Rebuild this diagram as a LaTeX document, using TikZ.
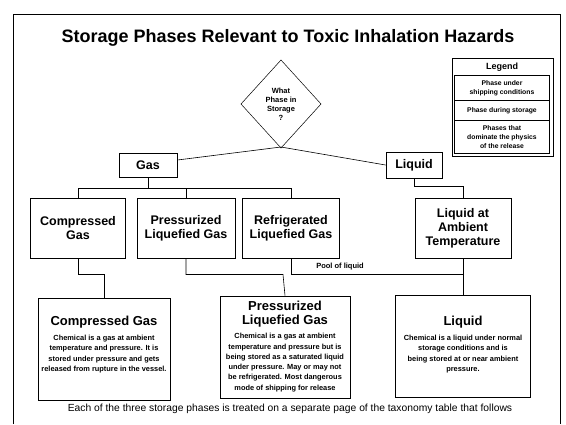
\documentclass[tikz,border=0pt]{standalone}
\usepackage{fontspec}
\setmainfont{Liberation Sans}
\usepackage{tikz}
\usetikzlibrary{arrows,shapes,positioning}

\tikzset{
  phasebox/.style={draw, line width=.9pt, align=center, font=\fontsize{12.5}{14}\selectfont\bfseries, inner sep=0pt},
  infobox/.style={draw, line width=1pt, inner sep=0pt},
  legbox/.style={draw, line width=.7pt, align=center, font=\fontsize{6.8}{9}\selectfont\bfseries, inner sep=0pt},
  bodytext/.style={align=center, font=\fontsize{7.4}{10.3}\selectfont\bfseries},
  headtext/.style={align=center, font=\fontsize{13}{14.5}\selectfont\bfseries},
  wire/.style={line width=.6pt},
}

\begin{document}
\begin{tikzpicture}[x=1pt,y=-1pt]
\useasboundingbox (0,0) rectangle (566,424);
%outside frame, open at the bottom
\draw[line width=.8pt] (13,424) -- (13,14) -- (560,14) -- (560,424);
\node[font=\fontsize{18}{20}\selectfont\bfseries] (title) at (288,38) {Storage Phases Relevant to Toxic Inhalation Hazards};
%question diamond
\draw[line width=.5pt] (281,60) -- (321,104) -- (281,148) -- (241,104) -- cycle;
\node[align=center, font=\fontsize{7.5}{9}\selectfont\bfseries] (ask) at (281,104) {What\\Phase in\\Storage\\?};
\coordinate (askbot) at (281,147);
%legend
\draw[line width=.8pt] (452,58) rectangle (553,156);
\node[font=\fontsize{9}{10}\selectfont\bfseries] (leg) at (502,67) {Legend};
\node[legbox, minimum width=95pt, minimum height=25pt] (leg1) at (502,88) {Phase under\\shipping conditions};
\node[legbox, minimum width=95pt, minimum height=20pt] (leg2) at (502,110.5) {Phase during storage};
\node[legbox, minimum width=95pt, minimum height=33pt] (leg3) at (502,137) {Phases that\\dominate the physics\\of the release};
%first split
\node[phasebox, minimum width=58pt, minimum height=24pt] (gas) at (148,165) {Gas};
\node[phasebox, minimum width=56pt, minimum height=26pt] (liq) at (414,165) {Liquid};
\draw[wire] (askbot) -- (gas.north east |- 0,160);
\draw[wire] (askbot) -- (liq.west);
%storage phases
\node[phasebox, minimum width=95pt, minimum height=60pt] (cg) at (78,228) {Compressed\\Gas};
\node[phasebox, minimum width=98pt, minimum height=60pt] (plg) at (186,228) {Pressurized\\Liquefied Gas};
\node[phasebox, minimum width=97pt, minimum height=60pt] (rlg) at (291,228) {Refrigerated\\Liquefied Gas};
\node[phasebox, minimum width=96pt, minimum height=60pt] (lat) at (463,228) {Liquid at\\Ambient\\Temperature};
\draw[wire] (gas.south) -- ++(0,11) coordinate (gsplit);
\draw[wire] (cg.north) |- (gsplit) -| (rlg.north);
\draw[wire] (plg.north) -- (plg.north |- gsplit);
\draw[wire] (liq.south) |- ++(49,8) -- (lat.north);
%release phases
\node[infobox, minimum width=132pt, minimum height=102pt] (cgi) at (104,349) {};
\node[infobox, minimum width=130pt, minimum height=102pt] (plgi) at (285,347) {};
\node[infobox, minimum width=135pt, minimum height=102pt] (liqi) at (463,346) {};
\node[headtext] (cgt) at (104,322) {Compressed Gas};
\node[bodytext, below=0pt of cgt] (cgx) {Chemical is a gas at ambient\\temperature and pressure. It is\\stored under pressure and gets\\released from rupture in the vessel.};
\node[headtext] (plgt) at (285,314) {Pressurized\\Liquefied Gas};
\node[bodytext, below=-1pt of plgt] (plgx) {Chemical is a gas at ambient\\temperature and pressure but is\\being stored as a saturated liquid\\under pressure. May or may not\\be refrigerated. Most dangerous\\mode of shipping for release};
\node[headtext] (liqt) at (463,322) {Liquid};
\node[bodytext, below=0pt of liqt] (liqx) {Chemical is a liquid under normal\\storage conditions and is\\being stored at or near ambient\\pressure.};
\draw[wire] (cg.south) |- ++(26,16) -- (cgi.north);
\draw[wire] (plg.south) |- ++(97,16) -- (plgi.north);
\draw[wire] (rlg.south) |- ++(172,16) coordinate (pool) -- (liqi.north);
\draw[wire] (lat.south) -- (lat.south |- pool);
\node[font=\fontsize{7.5}{9}\selectfont\bfseries] (poollab) at (340,267) {Pool of liquid};
\node[font=\fontsize{10.3}{12}\selectfont] (foot) at (290,409) {Each of the three storage phases is treated on a separate page of the taxonomy table that follows};
\end{tikzpicture}
\end{document}
